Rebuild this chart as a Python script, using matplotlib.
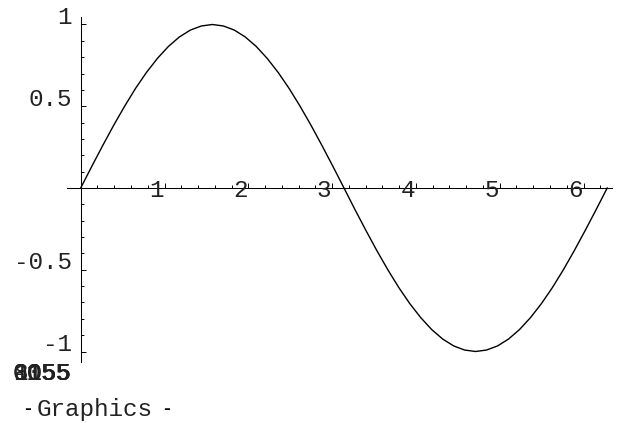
import numpy as np
import matplotlib
matplotlib.use("Agg")
import matplotlib.pyplot as plt
from matplotlib.transforms import offset_copy, IdentityTransform
from matplotlib.ticker import FixedLocator

# Sampled points of the plotted curve
x_vals = [0.000, 0.131, 0.262, 0.393, 0.524, 0.654, 0.785, 0.916, 1.047, 1.178, 1.309,
          1.440, 1.571, 1.702, 1.833, 1.963, 2.094, 2.225, 2.356, 2.487, 2.618, 2.749,
          2.880, 3.011, 3.142, 3.272, 3.403, 3.534, 3.665, 3.796, 3.927, 4.058, 4.189,
          4.320, 4.451, 4.581, 4.712, 4.843, 4.974, 5.105, 5.236, 5.367, 5.498, 5.629,
          5.760, 5.890, 6.021, 6.152, 6.283]
y_vals = [0.000, 0.131, 0.259, 0.383, 0.500, 0.609, 0.707, 0.793, 0.866, 0.924, 0.966,
          0.991, 1.000, 0.991, 0.966, 0.924, 0.866, 0.793, 0.707, 0.609, 0.500, 0.383,
          0.259, 0.131, 0.000, -0.131, -0.259, -0.383, -0.500, -0.609, -0.707, -0.793,
          -0.866, -0.924, -0.966, -0.991, -1.000, -0.991, -0.966, -0.924, -0.866, -0.793,
          -0.707, -0.609, -0.500, -0.383, -0.259, -0.131, 0.000]

x_major = [1, 2, 3, 4, 5, 6]
x_labels = ["1", "2", "3", "4", "5", "6"]
y_major = [-1, -0.5, 0.5, 1]
y_labels = ["-1", "-0.5", "0.5", "1"]
stray_labels = ["1055", "0055", "-155", "0155", "8055"]
caption = "Graphics"

FONT = "Liberation Mono"
FS = 17.5
TXT = "#222222"

W, H = 618, 423
fig = plt.figure(figsize=(W / 100, H / 100), dpi=100)
ax = fig.add_axes([0, 0, 1, 1])

# pixel mapping: origin at (80.7, 188), 83.8 px per x unit, 163.5 px per y unit
ox, oy, sx, sy = 80.7, 188.0, 83.8, 163.5
ax.set_xlim(-ox / sx, (W - ox) / sx)
ax.set_ylim((oy - H) / sy, oy / sy)

ax.plot(x_vals, y_vals, color="black", lw=1.0, solid_joinstyle="round")

# axes through the origin
for side in ("top", "right"):
    ax.spines[side].set_visible(False)
ax.spines["left"].set_position(("data", 0))
ax.spines["bottom"].set_position(("data", 0))
ax.spines["left"].set_bounds(-1.064, 1.046)
ax.spines["bottom"].set_bounds(-0.163, 6.34)
ax.spines["left"].set_linewidth(0.75)
ax.spines["bottom"].set_linewidth(0.75)

x_minor = [round(0.2 * i, 1) for i in range(1, 32) if i % 5 != 0]
y_minor = [round(0.1 * i, 1) for i in range(-10, 11) if i % 5 != 0]
ax.xaxis.set_major_locator(FixedLocator(x_major))
ax.xaxis.set_minor_locator(FixedLocator(x_minor))
ax.yaxis.set_major_locator(FixedLocator(y_major))
ax.yaxis.set_minor_locator(FixedLocator(y_minor))
ax.tick_params(which="both", direction="in", labelbottom=False, labelleft=False,
               color="black")
ax.tick_params(which="major", length=3.4, width=0.7)
ax.tick_params(which="minor", length=1.9, width=0.7)

# tick labels, placed slightly off their ticks
for xv, lab in zip(x_major, x_labels):
    tr = offset_copy(ax.transData, fig=fig, x=-8, y=-2, units="dots")
    ax.text(xv, 0, lab, transform=tr, ha="center", va="center",
            family=FONT, fontsize=FS, color=TXT)
for yv, lab in zip(y_major, y_labels):
    tr = offset_copy(ax.transData, fig=fig, x=-9, y=7, units="dots")
    ax.text(0, yv, lab, transform=tr, ha="right", va="center",
            family=FONT, fontsize=FS, color=TXT)

# overprinted labels at the lower left
for s in stray_labels:
    fig.text(71, H - 373, s, transform=IdentityTransform(), ha="right", va="center",
             family=FONT, fontsize=FS, color=TXT)

# caption
fig.text(27.5, H - 409, "-", transform=IdentityTransform(), ha="center", va="center",
         family=FONT, fontsize=13, fontweight="bold", color="black")
fig.text(95, H - 409, caption, transform=IdentityTransform(), ha="center", va="center",
         family=FONT, fontsize=FS, color=TXT)
fig.text(166.5, H - 409, "-", transform=IdentityTransform(), ha="center", va="center",
         family=FONT, fontsize=13, fontweight="bold", color="black")

ax.set_facecolor("white")
fig.savefig("out.png", dpi=100, facecolor="white")
